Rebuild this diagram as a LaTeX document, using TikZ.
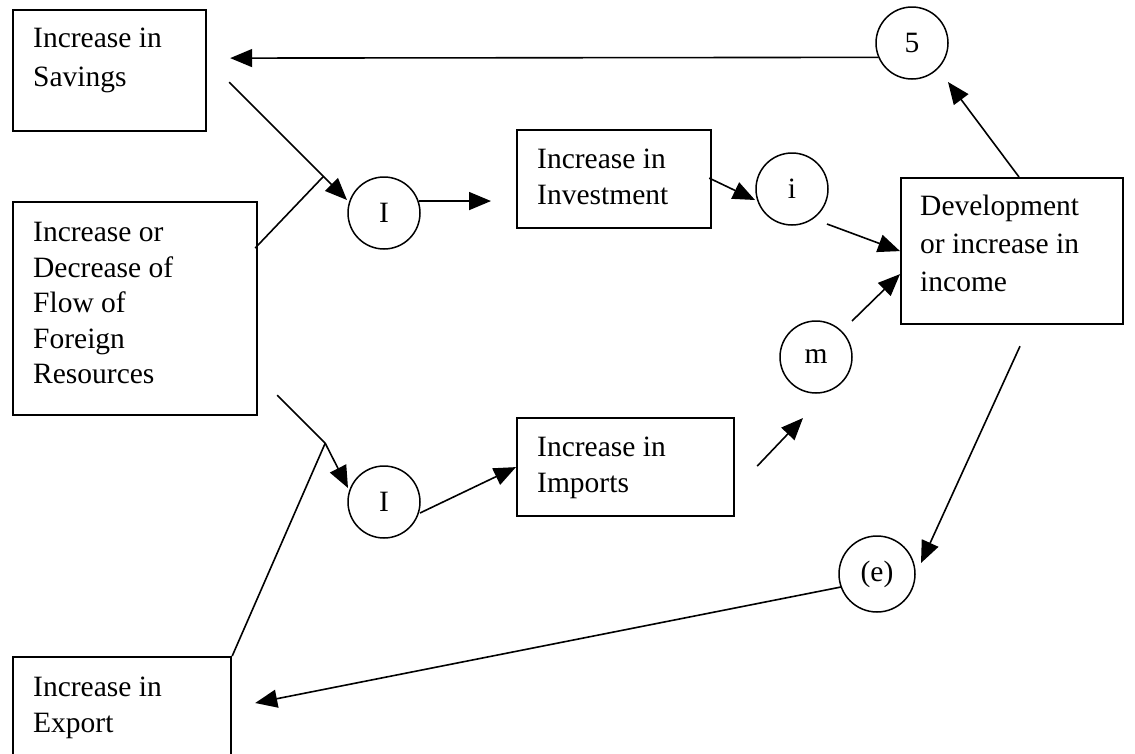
\documentclass[tikz,border=0pt]{standalone}
\usepackage{fontspec}
\setmainfont{Liberation Serif}
\usetikzlibrary{arrows.meta,calc}

\begin{document}
\begin{tikzpicture}[x=1pt,y=-1pt]
% Estilos
\tikzstyle{box} = [draw, line width=2.2pt, rectangle, anchor=north west, inner sep=0pt]
\tikzstyle{boxtext} = [anchor=north west, align=left, inner sep=0pt, font=\fontsize{29.5}{35.5}\selectfont]
\tikzstyle{ring} = [draw, line width=1.5pt, circle, minimum size=72pt, inner sep=0pt, font=\fontsize{29.5}{35.5}\selectfont]
\tikzstyle{arr} = [line width=1.6pt, -{Triangle[length=22pt,width=18pt]}]
\tikzstyle{ln} = [line width=1.6pt]

\useasboundingbox (0,0) rectangle (1135,753);
\fill[white] (0,0) rectangle (1135,753);

% Cajas
\node[box, minimum width=193pt, minimum height=121pt] (savings_box) at (12,9) {};
\node[box, minimum width=244pt, minimum height=213pt] (foreign_box) at (12,201) {};
\node[box, minimum width=218pt, minimum height=120pt] (export_box) at (12,656) {};
\node[box, minimum width=194pt, minimum height=98pt] (investment_box) at (516,129) {};
\node[box, minimum width=217pt, minimum height=98pt] (imports_box) at (516,417) {};
\node[box, minimum width=222pt, minimum height=146pt] (development_box) at (900,177) {};

\node[boxtext] (savings_text) at ($(savings_box.north west)+(21,19)$) {Increase in\\[3pt]Savings};
\node[boxtext] (foreign_text) at ($(foreign_box.north west)+(21,21)$) {Increase or\\Decrease of\\Flow of\\Foreign\\Resources};
\node[boxtext] (export_text) at ($(export_box.north west)+(21,21)$) {Increase in\\Export};
\node[boxtext] (investment_text) at ($(investment_box.north west)+(21,20)$) {Increase in\\Investment};
\node[boxtext] (imports_text) at ($(imports_box.north west)+(21,20)$) {Increase in\\Imports};
\node[boxtext] (development_text) at ($(development_box.north west)+(20,18)$) {Development\\[2.5pt]or increase in\\[2.5pt]income};

% Circulos
\node[ring] (i_top) at (384,213) {I};
\node[ring] (i_bottom) at (384,502) {I};
\node[ring] (i_small) at (792,189) {i};
\node[ring] (m_circ) at (816,357) {m};
\node[ring] (five_circ) at (912,43) {5};
\node[ring, minimum size=76pt] (e_circ) at (877,574) {(e)};

% Ahorro e inversion
\draw[arr] (five_circ.203) -- ($(savings_box.east)+(23,-12.5)$);
\coordinate (sav_out) at ($(savings_box.east)+(22,11.5)$);
\coordinate (i_top_in) at ($(i_top)+(-37,-13)$);
\draw[arr] (sav_out) -- (i_top_in);
\coordinate (join_top) at ($(sav_out)!0.8!(i_top_in)$);
\draw[ln] ($(foreign_box.north east)+(-3,47)$) -- (join_top);
\draw[arr, shorten >=25pt] (i_top.19) -- (i_top.19 -| investment_box.west);
\draw[arr] ($(investment_box.east)+(-3,-1)$) -- ($(i_small)+(-37,11)$);
\draw[arr] ($(i_small)+(35,35)$) -- (development_box.west);

% Importaciones
\coordinate (join_bottom) at ($(foreign_box.south east)+(67,27)$);
\draw[ln] ($(foreign_box.south east)+(19,-21)$) -- (join_bottom);
\draw[ln] (export_box.north east) -- (join_bottom);
\draw[arr] (join_bottom) -- ($(i_bottom)+(-36,-14)$);
\draw[arr] ($(i_bottom)+(36,11)$) -- (imports_box.west);
\draw[arr] ($(imports_box.east)+(22,-1)$) -- ($(m_circ)+(-13,61)$);
\draw[arr] ($(m_circ)+(36,-36)$) -- ($(development_box.west)+(0,23)$);

% Retroalimentacion
\draw[arr] ($(development_box.north west)+(119,0)$) -- ($(five_circ)+(36,39)$);
\draw[arr] ($(development_box.south west)+(120,21)$) -- ($(e_circ)+(44,-11)$);
\draw[arr] ($(e_circ)+(-36,13)$) -- ($(export_box.north east)+(23,47)$);
\end{tikzpicture}
\end{document}
